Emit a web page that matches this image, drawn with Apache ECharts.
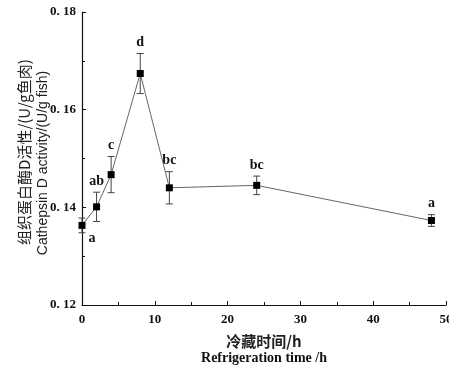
<!DOCTYPE html>
<html>
<head>
<meta charset="utf-8">
<script src="https://cdn.jsdelivr.net/npm/echarts@6.0.0/dist/echarts.min.js"></script>
<style>
html, body { margin: 0; padding: 0; background: #fff; }
#main { width: 449px; height: 371px; }
</style>
</head>
<body>
<div id="main"></div>
<script>
// 冷藏时间 (h) 与组织蛋白酶D活性
var hours = [0, 2, 4, 8, 12, 24, 48];
var activity = [0.1363, 0.1401, 0.1467, 0.1674, 0.1440, 0.1445, 0.1373];
var errors = [0.0015, 0.0030, 0.0037, 0.0041, 0.0033, 0.0019, 0.0012];
var letters = ['a', 'ab', 'c', 'd', 'bc', 'bc', 'a'];

var serif = '"Liberation Serif", "DejaVu Serif", serif';

var lineData = [];
var errData = [];
for (var i = 0; i < hours.length; i++) {
	lineData.push([hours[i], activity[i]]);
	errData.push([hours[i], activity[i], errors[i]]);
}

function renderErr(params, api) {
	var x = api.value(0), y = api.value(1), e = api.value(2);
	var top = api.coord([x, y + e]);
	var bot = api.coord([x, y - e]);
	var pt = api.coord([x, y]);
	var half = 3.5;
	var st = { stroke: '#444', lineWidth: 1 };
	var children = [
		{ type: 'line', shape: { x1: top[0], y1: top[1], x2: bot[0], y2: bot[1] }, style: st },
		{ type: 'line', shape: { x1: top[0] - half, y1: top[1], x2: top[0] + half, y2: top[1] }, style: st },
		{ type: 'line', shape: { x1: bot[0] - half, y1: bot[1], x2: bot[0] + half, y2: bot[1] }, style: st }
	];
	var lx = top[0], ly = top[1] - 11;
	if (params.dataIndex === 0) {
		// 第一个点的字母标在右下方
		lx = pt[0] + 10;
		ly = pt[1] + 13;
	}
	children.push({
		type: 'text',
		style: {
			text: letters[params.dataIndex],
			x: lx, y: ly,
			align: 'center', verticalAlign: 'middle',
			font: 'bold 14px ' + serif,
			fill: '#111'
		}
	});
	return { type: 'group', children: children };
}

var myChart = echarts.init(document.getElementById('main'), null, { renderer: 'canvas' });
var option = {
	backgroundColor: '#fff',
	animation: false,
	grid: { left: 82, right: 3, top: 12, bottom: 66, outerBoundsMode: 'none' },
	xAxis: {
		type: 'value',
		min: 0, max: 50, interval: 10,
		axisLine: { lineStyle: { color: '#111', width: 1.2 } },
		axisTick: { inside: true, length: 4, lineStyle: { color: '#111' } },
		minorTick: { show: true, splitNumber: 2, length: 3, lineStyle: { color: '#111' } },
		splitLine: { show: false },
		axisLabel: { margin: 8, color: '#111', fontFamily: serif, fontWeight: 'bold', fontSize: 13 }
	},
	yAxis: {
		type: 'value',
		min: 0.12, max: 0.18, interval: 0.02,
		axisLine: { show: true, lineStyle: { color: '#111', width: 1.2 } },
		axisTick: { show: true, inside: true, length: 4, lineStyle: { color: '#111' } },
		minorTick: { show: true, splitNumber: 2, length: 3, lineStyle: { color: '#111' } },
		splitLine: { show: false },
		axisLabel: {
			margin: 6, color: '#111', fontFamily: serif, fontWeight: 'bold', fontSize: 13,
			formatter: function (v) { return v.toFixed(2).replace('.', '. '); }
		}
	},
	graphic: [
		{ type: 'text', x: 24, y: 152, rotation: Math.PI / 2,
			style: { text: '组织蛋白酶D活性/(U/g鱼肉)', align: 'center', verticalAlign: 'middle',
				font: '15px "Noto Sans CJK SC"', fill: '#222' } },
		{ type: 'text', x: 43, y: 163, rotation: Math.PI / 2,
			style: { text: 'Cathepsin D activity/(U/g fish)', align: 'center', verticalAlign: 'middle',
				font: '14px "Liberation Sans"', fill: '#222' } },
		{ type: 'text', x: 264, y: 341,
			style: { text: '冷藏时间/h', align: 'center', verticalAlign: 'middle',
				font: 'bold 15px "Noto Sans CJK SC"', fill: '#222' } },
		{ type: 'text', x: 264, y: 358,
			style: { text: 'Refrigeration time /h', align: 'center', verticalAlign: 'middle',
				font: 'bold 14px ' + serif, fill: '#111' } }
	],
	series: [{
		type: 'custom',
		renderItem: renderErr,
		data: errData,
		clip: false,
		z: 2
	}, {
		type: 'line',
		data: lineData,
		symbol: 'rect',
		symbolSize: 7,
		clip: false,
		itemStyle: { color: '#000' },
		lineStyle: { color: '#666', width: 1 },
		z: 3
	}]
};
myChart.setOption(option);
</script>
</body>
</html>
